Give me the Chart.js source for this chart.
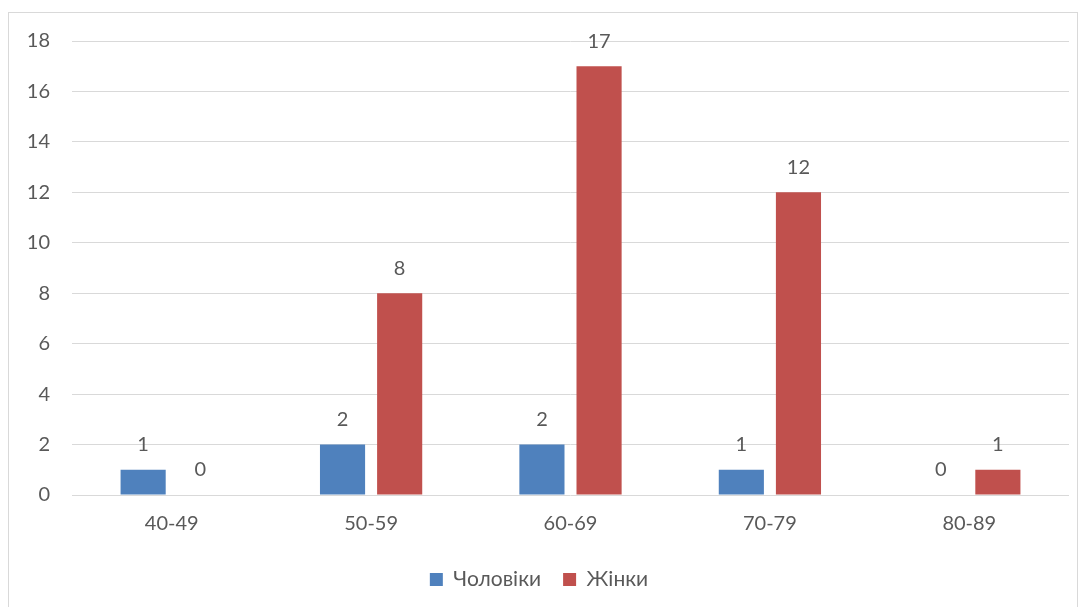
<!DOCTYPE html>
<html lang="uk">
<head>
  <meta charset="UTF-8">
  <title>Розподіл за віком</title>
  <script src="https://cdn.jsdelivr.net/npm/chart.js"></script>
  <style>
    body { margin: 0; background: #fff; }
    .chart-box {
      position: absolute;
      left: 8px;
      top: 12px;
      width: 1068px;
      height: 600px;
      border: 1px solid #d9d9d9;
      background: #fff;
    }
  </style>
</head>
<body>
  <div class="chart-box">
    <canvas id="ageChart"></canvas>
  </div>

  <script>
    // дані з діаграми
    const ageGroups = ['40-49', '50-59', '60-69', '70-79', '80-89'];
    const menValues = [1, 2, 2, 1, 0];
    const womenValues = [0, 8, 17, 12, 1];
    const seriesNames = ['Чоловіки', 'Жінки'];

    const textColor = '#595959';
    const fontFamily = 'Lato, "Open Sans", sans-serif';
    const fontSize = 20;

    // підписи значень над стовпчиками
    const valueLabels = {
      id: 'valueLabels',
      afterDatasetsDraw(chart) {
        const ctx = chart.ctx;
        ctx.save();
        ctx.fillStyle = textColor;
        ctx.font = fontSize + 'px ' + fontFamily;
        ctx.textAlign = 'center';
        ctx.textBaseline = 'middle';
        chart.data.datasets.forEach((ds, i) => {
          chart.getDatasetMeta(i).data.forEach((bar, j) => {
            ctx.fillText(ds.data[j], bar.x, bar.y - 25);
          });
        });
        ctx.restore();
      }
    };

    new Chart(document.getElementById('ageChart'), {
      type: 'bar',
      data: {
        labels: ageGroups,
        datasets: [
          {
            label: seriesNames[0],
            data: menValues,
            backgroundColor: '#4f81bd',
            categoryPercentage: 0.573,
            barPercentage: 0.79
          },
          {
            label: seriesNames[1],
            data: womenValues,
            backgroundColor: '#c0504d',
            categoryPercentage: 0.573,
            barPercentage: 0.79
          }
        ]
      },
      options: {
        responsive: true,
        maintainAspectRatio: false,
        animation: false,
        layout: { padding: { top: 28, right: 8, left: 0, bottom: 13 } },
        scales: {
          x: {
            grid: { display: false },
            border: { display: false },
            ticks: { color: textColor, font: { family: fontFamily, size: fontSize }, padding: 9 },
            afterFit(scale) { scale.height = 52; }
          },
          y: {
            min: 0,
            max: 18,
            ticks: { stepSize: 2, color: textColor, font: { family: fontFamily, size: fontSize }, padding: 22 },
            grid: { color: '#d9d9d9', lineWidth: 1, drawTicks: false },
            border: { display: false },
            afterFit(scale) {
              scale.width = 63;
              scale.paddingTop = 0;
              scale.paddingBottom = 0;
            }
          }
        },
        plugins: {
          legend: {
            position: 'bottom',
            labels: {
              color: textColor,
              font: { family: fontFamily, size: 21 },
              boxWidth: 13,
              boxHeight: 13,
              padding: 22
            }
          },
          tooltip: { enabled: false }
        }
      },
      plugins: [valueLabels]
    });
  </script>
</body>
</html>
